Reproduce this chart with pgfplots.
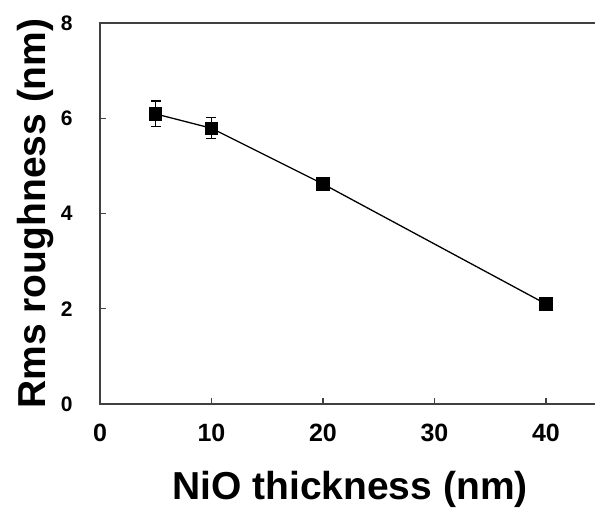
\documentclass[border=0pt]{standalone}
\usepackage{fontspec}
\setmainfont{Liberation Sans}
\usepackage{pgfplots}
\pgfplotsset{compat=1.18}
\begin{document}
\begin{tikzpicture}
\begin{axis}[
  scale only axis, width=500pt, height=381pt,
  xmin=0, xmax=44.85, ymin=0, ymax=8,
  xtick={0,10,20,30,40}, ytick={0,2,4,6,8},
  xtick pos=bottom, ytick pos=left,
  axis line style={line width=1.3pt, black!75},
  tick align=inside, major tick length=6pt,
  tick style={line width=1.3pt, black!75},
  /pgf/number format/assume math mode=true,
  xticklabel style={font=\fontsize{25}{26}\selectfont\bfseries, anchor=base, yshift=-38pt},
  yticklabel style={font=\fontsize{21}{22}\selectfont\bfseries, anchor=east, xshift=-24pt},
  xlabel={NiO thickness (nm)},
  ylabel={Rms roughness (nm)},
  xlabel style={font=\fontsize{39}{40}\selectfont\bfseries,
    at={(axis description cs:0.5,0)}, anchor=base, yshift=-96pt},
  ylabel style={font=\fontsize{39}{40}\selectfont\bfseries,
    at={(axis description cs:0,0.5)}, anchor=center, yshift=64pt},
  clip=false,
]
\addplot[black, line width=1.3pt, mark=square*, mark size=6pt,
  mark options={solid, fill=black},
  error bars/.cd, y dir=both, y explicit,
  error bar style={line width=1.3pt},
  error mark options={rotate=90, mark size=5pt, line width=1.3pt}]
  coordinates {
    (5,6.09) +- (0,0.27)
    (10,5.79) +- (0,0.22)
    (20,4.62) +- (0,0.05)
    (40,2.10) +- (0,0.05)
  };
\coordinate (bl) at (rel axis cs:0,0);
\coordinate (tl) at (rel axis cs:0,1);
\end{axis}
% page frame as in the reference: the right border lies just past the edge
\pgfresetboundingbox
\useasboundingbox ([shift={(-100pt,-113pt)}]bl) rectangle ([shift={(495pt,23pt)}]tl);
\end{tikzpicture}
\end{document}
